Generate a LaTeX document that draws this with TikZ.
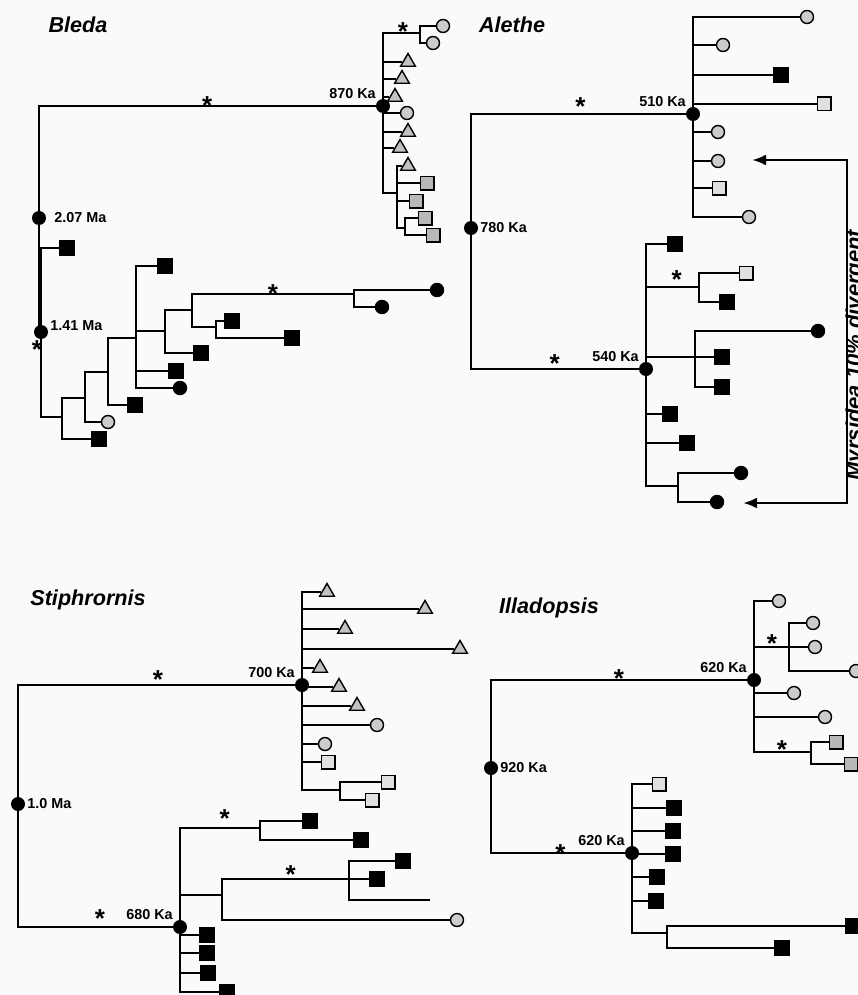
\documentclass[tikz,border=0pt]{standalone}
\usepackage{fontspec}
\setmainfont{Liberation Sans}
\usepackage{tikz}
\usetikzlibrary{arrows.meta, shapes.geometric, positioning}
\definecolor{paper}{rgb}{0.985,0.98,0.985}
\definecolor{circgrey}{gray}{0.80}
\definecolor{trigrey}{gray}{0.76}
\definecolor{sqgrey}{gray}{0.72}
\definecolor{palegrey}{gray}{0.88}

\begin{document}
\begin{tikzpicture}[
        x=0.5pt, y=-0.5pt,
        % Set the overall look of the four trees
        branch/.style={line width=1.4pt},
        age/.style={circle, fill=black, minimum size=7pt, inner sep=0pt},
        lbl/.style={font=\fontsize{7.2}{8}\selectfont\bfseries, inner sep=0.8pt},
        ttl/.style={font=\fontsize{10.8}{12}\selectfont\bfseries\itshape},
        sig/.style={font=\fontsize{13}{13}\selectfont\bfseries, inner sep=0pt,
            anchor=base, yshift=-4.3pt},
        vtxt/.style={font=\fontsize{11}{12}\selectfont\bfseries\itshape,
            rotate=90, anchor=north, inner sep=0pt},
        % Tip symbols
        tip/.style={draw, line width=0.7pt, inner sep=0pt},
        gcirc/.style={tip, circle, minimum size=6.5pt, fill=circgrey},
        bdot/.style={tip, circle, minimum size=6.5pt, fill=black},
        gsq/.style={tip, rectangle, minimum size=6.8pt, fill=sqgrey},
        lsq/.style={tip, rectangle, minimum size=6.8pt, fill=palegrey},
        bsq/.style={tip, rectangle, minimum size=7.2pt, fill=black},
        gtri/.style={tip, regular polygon, regular polygon sides=3,
            minimum size=8.5pt, fill=trigrey}
    ]
    \fill[paper] (0,0) rectangle (857,995);
    \useasboundingbox (0,0) rectangle (857,995);

    % Bleda
    \node[ttl] (bledaT) at (78,25) {Bleda};
    \node[age, label={[lbl, xshift=3pt]right:2.07 Ma}] (blroot) at (39,218) {};
    \node[age, label={[lbl]north west:870 Ka}] (bl870) at (383,106) {};
    \node[age, label={[lbl, yshift=3pt]right:1.41 Ma}] (bl141) at (41,332) {};
    \node[sig] (bl141s) at (37,350) {*};
    \node[gcirc] (bl1) at (443,26) {};
    \node[gcirc] (bl2) at (433,43) {};
    \node[gtri] (bl3) at (408,62) {};
    \node[gtri] (bl4) at (402,79) {};
    \node[gtri] (bl5) at (395,97) {};
    \node[gcirc] (bl6) at (407,113) {};
    \node[gtri] (bl7) at (408,132) {};
    \node[gtri] (bl8) at (400,148) {};
    \node[gtri] (bl9) at (408,166) {};
    \node[gsq] (bl10) at (427,183) {};
    \node[gsq] (bl11) at (416,201) {};
    \node[gsq] (bl12) at (425,218) {};
    \node[gsq] (bl13) at (433,235) {};
    \coordinate (blA) at (420,33);
    \coordinate (blB) at (397,193);
    \coordinate (blC) at (405,228);
    \node[bsq] (bl14) at (67,248) {};
    \node[bsq] (bl15) at (99,439) {};
    \node[gcirc] (bl16) at (108,422) {};
    \node[bsq] (bl17) at (135,405) {};
    \node[bsq] (bl18) at (165,266) {};
    \node[bsq] (bl19) at (176,371) {};
    \node[bdot] (bl20) at (180,388) {};
    \node[bsq] (bl21) at (201,353) {};
    \node[bsq] (bl22) at (232,321) {};
    \node[bsq] (bl23) at (292,338) {};
    \node[bdot] (bl24) at (437,290) {};
    \node[bdot] (bl25) at (382,307) {};
    \coordinate (blE) at (62,417);
    \coordinate (blF) at (85,398);
    \coordinate (blG) at (108,372);
    \coordinate (blH) at (136,338);
    \coordinate (blI) at (165,331);
    \coordinate (blJ) at (192,310);
    \coordinate (blK) at (354,294);
    \coordinate (blL) at (216,327);

    \draw[branch] (blroot) |- node[sig, pos=0.75] {*} (bl870)
        (blroot) |- (bl141);
    \draw[branch] (bl870) |- node[sig, pos=0.77, yshift=0.5pt] {*} (blA)
        (bl870) |- (bl3) (bl870) |- (bl4) (bl870) |- (bl5) (bl870) |- (bl6)
        (bl870) |- (bl7) (bl870) |- (bl8) (bl870) |- (blB);
    \draw[branch] (blA) |- (bl1) (blA) |- (bl2);
    \draw[branch] (blB) |- (bl9) (blB) |- (bl10) (blB) |- (bl11) (blB) |- (blC);
    \draw[branch] (blC) |- (bl12) (blC) |- (bl13);
    \draw[branch] (bl141) |- (bl14) (bl141) |- (blE);
    \draw[branch] (blE) |- (bl15) (blE) |- (blF);
    \draw[branch] (blF) |- (bl16) (blF) |- (blG);
    \draw[branch] (blG) |- (bl17) (blG) |- (blH);
    \draw[branch] (blH) |- (bl18) (blH) |- (blI) (blH) |- (bl19) (blH) |- (bl20);
    \draw[branch] (blI) |- (bl21) (blI) |- (blJ);
    \draw[branch] (blJ) |- node[sig, pos=0.75] {*} (blK) (blJ) |- (blL);
    \draw[branch] (blK) |- (bl24) (blK) |- (bl25);
    \draw[branch] (blL) |- (bl22) (blL) |- (bl23);

    % Alethe
    \node[ttl] (aletheT) at (512,25) {Alethe};
    \node[age, label={[lbl]right:780 Ka}] (alroot) at (471,228) {};
    \node[age, label={[lbl]north west:510 Ka}] (al510) at (693,114) {};
    \node[age, label={[lbl]north west:540 Ka}] (al540) at (646,369) {};
    \node[gcirc] (al1) at (807,17) {};
    \node[gcirc] (al2) at (723,45) {};
    \node[bsq] (al3) at (781,75) {};
    \node[lsq] (al4) at (824,104) {};
    \node[gcirc] (al5) at (718,132) {};
    \node[gcirc] (al6) at (718,161) {};
    \node[lsq] (al7) at (719,188) {};
    \node[gcirc] (al8) at (749,217) {};
    \node[bsq] (al9) at (675,244) {};
    \node[lsq] (al10) at (746,273) {};
    \node[bsq] (al11) at (727,302) {};
    \node[bdot] (al12) at (818,331) {};
    \node[bsq] (al13) at (722,357) {};
    \node[bsq] (al14) at (722,387) {};
    \node[bsq] (al15) at (670,414) {};
    \node[bsq] (al16) at (687,443) {};
    \node[bdot] (al17) at (741,473) {};
    \node[bdot] (al18) at (717,502) {};
    \coordinate (alA) at (699,287);
    \coordinate (alB) at (695,357);
    \coordinate (alC) at (678,486);

    \draw[branch] (alroot) |- node[sig, pos=0.755, yshift=3.5pt] {*} (al510)
        (alroot) |- node[sig, pos=0.75, yshift=2.5pt] {*} (al540);
    \draw[branch] (al510) |- (al1) (al510) |- (al2) (al510) |- (al3)
        (al510) |- (al4) (al510) |- (al5) (al510) |- (al6) (al510) |- (al7)
        (al510) |- (al8);
    \draw[branch] (al540) |- (al9)
        (al540) |- node[sig, pos=0.79, yshift=3.5pt] {*} (alA)
        (al540) |- (alB) (al540) |- (al15) (al540) |- (al16) (al540) |- (alC);
    \draw[branch] (alA) |- (al10) (alA) |- (al11);
    \draw[branch] (alB) |- (al12) (alB) -- (al13) (alB) |- (al14);
    \draw[branch] (alC) |- (al17) (alC) |- (al18);

    % Myrsidea bracket
    \coordinate (arUp) at (752,160);
    \coordinate (arTR) at (847,160);
    \coordinate (arBR) at (847,503);
    \coordinate (arLow) at (743,503);
    \draw[branch, {Latex[length=7pt,width=5.5pt]}-{Latex[length=7pt,width=5.5pt]}]
        (arUp) -- (arTR) -- (arBR) -- (arLow);
    \node[vtxt] (myrs) at (845,355) {Myrsidea 10\% divergent};

    % Stiphrornis
    \node[ttl] (stiphT) at (88,600) {Stiphrornis};
    \node[age, label={[lbl]right:1.0 Ma}] (stroot) at (18,804) {};
    \node[age, label={[lbl]north west:700 Ka}] (st700) at (302,685) {};
    \node[age, label={[lbl]north west:680 Ka}] (st680) at (180,927) {};
    \node[gtri] (st1) at (327,592) {};
    \node[gtri] (st2) at (425,609) {};
    \node[gtri] (st3) at (345,629) {};
    \node[gtri] (st4) at (460,649) {};
    \node[gtri] (st5) at (320,668) {};
    \node[gtri] (st6) at (339,687) {};
    \node[gtri] (st7) at (357,706) {};
    \node[gcirc] (st8) at (377,725) {};
    \node[gcirc] (st9) at (325,744) {};
    \node[lsq] (st10) at (328,762) {};
    \node[lsq] (st11) at (388,782) {};
    \node[lsq] (st12) at (372,800) {};
    \coordinate (stA) at (340,790);
    \node[bsq] (st13) at (310,821) {};
    \node[bsq] (st14) at (361,840) {};
    \node[bsq] (st15) at (403,861) {};
    \node[bsq] (st16) at (377,879) {};
    \node[gcirc] (st17) at (457,920) {};
    \node[bsq] (st18) at (207,935) {};
    \node[bsq] (st19) at (207,953) {};
    \node[bsq] (st20) at (208,973) {};
    \node[bsq] (st21) at (227,992) {};
    \coordinate (stB) at (260,828);
    \coordinate (stC) at (222,895);
    \coordinate (stD) at (349,879);
    \coordinate (stE) at (430,900);

    \draw[branch] (stroot) |- node[sig, pos=0.753, yshift=2.5pt] {*} (st700)
        (stroot) |- node[sig, pos=0.765, yshift=4pt] {*} (st680);
    \draw[branch] (st700) |- (st1) (st700) |- (st2) (st700) |- (st3)
        (st700) |- (st4) (st700) |- (st5) (st700) |- (st6) (st700) |- (st7)
        (st700) |- (st8) (st700) |- (st9) (st700) |- (st10) (st700) |- (stA);
    \draw[branch] (stA) |- (st11) (stA) |- (st12);
    \draw[branch] (st680) |- node[sig, pos=0.78, yshift=4.5pt] {*} (stB)
        (st680) |- (stC) (st680) |- (st18) (st680) |- (st19)
        (st680) |- (st20) (st680) |- (st21);
    \draw[branch] (stB) |- (st13) (stB) |- (st14);
    \draw[branch] (stC) |- node[sig, pos=0.77, yshift=2pt] {*} (stD)
        (stC) |- (st17);
    \draw[branch] (stD) |- (st15) (stD) -- (st16) (stD) |- (stE);

    % Illadopsis
    \node[ttl] (illaT) at (549,608) {Illadopsis};
    \node[age, label={[lbl]right:920 Ka}] (ilroot) at (491,768) {};
    \node[age, label={[lbl]north west:620 Ka}] (il620a) at (754,680) {};
    \node[age, label={[lbl]north west:620 Ka}] (il620b) at (632,853) {};
    \node[gcirc] (il1) at (779,601) {};
    \node[gcirc] (il2) at (813,623) {};
    \node[gcirc] (il3) at (815,647) {};
    \node[gcirc] (il4) at (856,671) {};
    \node[gcirc] (il5) at (794,693) {};
    \node[gcirc] (il6) at (825,717) {};
    \node[gsq] (il7) at (836,742) {};
    \node[gsq] (il8) at (851,764) {};
    \coordinate (ilA) at (789,647);
    \coordinate (ilB) at (811,752);
    \node[lsq] (il9) at (659,784) {};
    \node[bsq] (il10) at (674,808) {};
    \node[bsq] (il11) at (673,831) {};
    \node[bsq] (il12) at (673,854) {};
    \node[bsq] (il13) at (657,877) {};
    \node[bsq] (il14) at (656,901) {};
    \node[bsq] (il15) at (853,926) {};
    \node[bsq] (il16) at (782,948) {};
    \coordinate (ilC) at (667,933);

    \draw[branch] (ilroot) |- node[sig, pos=0.75, yshift=0.5pt] {*} (il620a)
        (ilroot) |- node[sig, pos=0.76, yshift=-0.5pt] {*} (il620b);
    \draw[branch] (il620a) |- (il1)
        (il620a) |- node[sig, pos=0.757, yshift=1.5pt] {*} (ilA)
        (il620a) |- (il5) (il620a) |- (il6)
        (il620a) |- node[sig, pos=0.745, yshift=1pt] {*} (ilB);
    \draw[branch] (ilA) |- (il2) (ilA) |- (il3) (ilA) |- (il4);
    \draw[branch] (ilB) |- (il7) (ilB) |- (il8);
    \draw[branch] (il620b) |- (il9) (il620b) |- (il10) (il620b) |- (il11)
        (il620b) |- (il12) (il620b) |- (il13) (il620b) |- (il14) (il620b) |- (ilC);
    \draw[branch] (ilC) |- (il15) (ilC) |- (il16);
\end{tikzpicture}
\end{document}
